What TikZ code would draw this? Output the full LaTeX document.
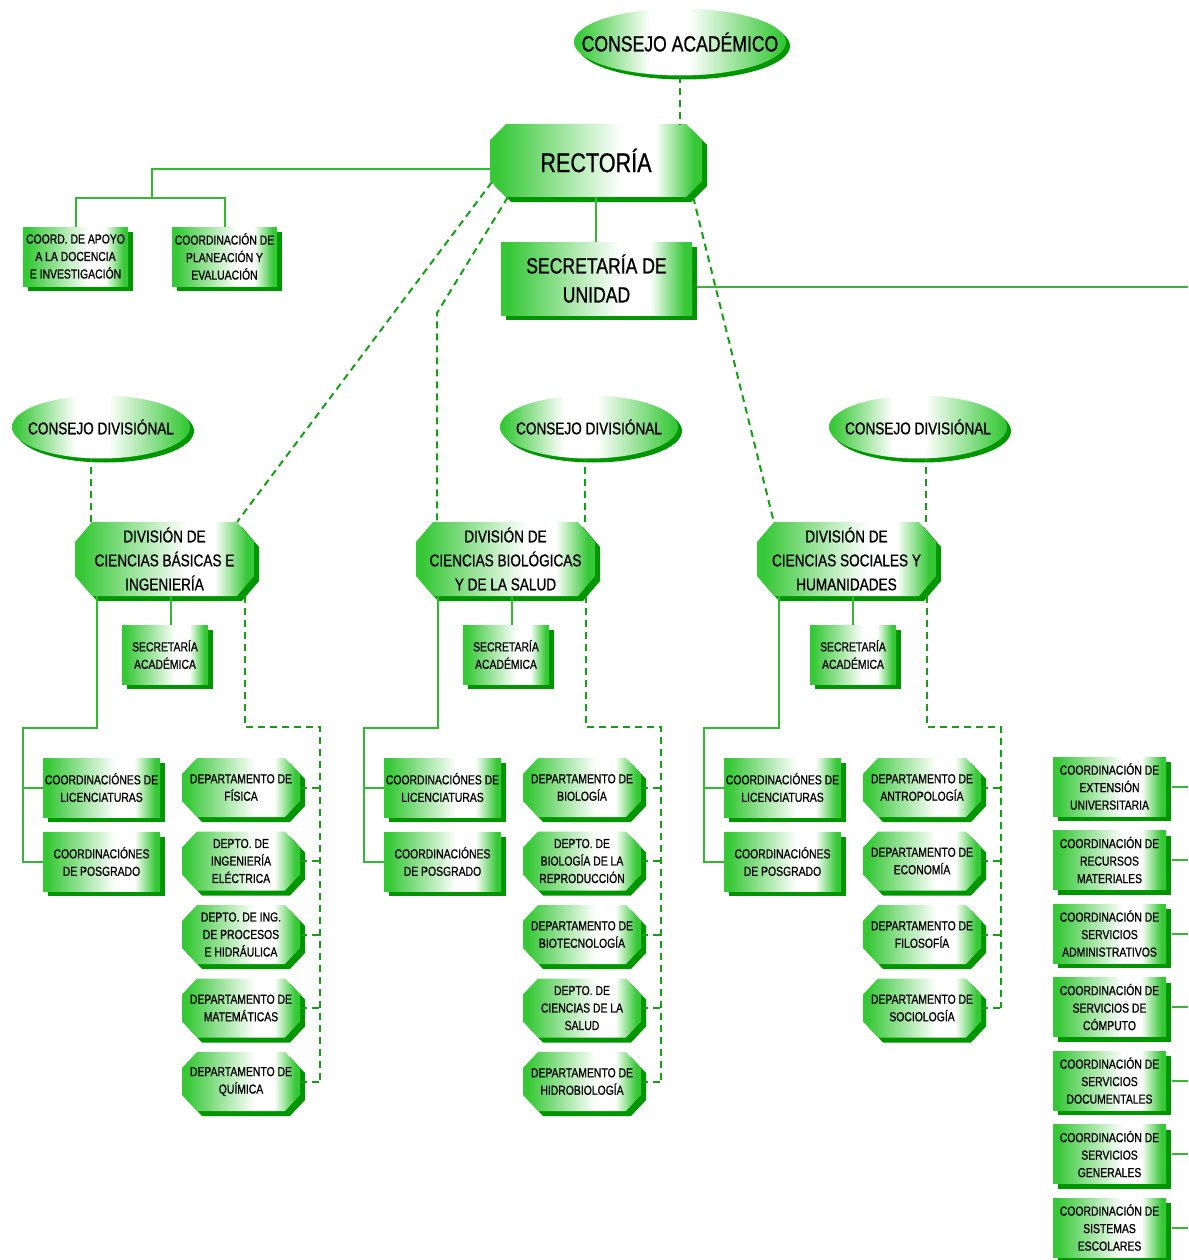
\documentclass[tikz,border=0pt]{standalone}
\usepackage{fontspec}
\setmainfont[FakeStretch=0.8,FakeBold=0.8]{Liberation Sans}
\usetikzlibrary{calc}
\definecolor{gmain}{RGB}{55,200,55}
\definecolor{gshadow}{RGB}{0,150,0}
\definecolor{gline}{RGB}{50,185,50}
\definecolor{gdash}{RGB}{20,160,20}
\pgfdeclarehorizontalshading{gboxsh}{100bp}{color(0bp)=(gmain); color(27bp)=(gmain); color(56bp)=(white); color(64bp)=(white); color(73bp)=(gmain); color(100bp)=(gmain)}
\pgfdeclarehorizontalshading{gellsh}{100bp}{color(0bp)=(gmain); color(26bp)=(gmain); color(43bp)=(white); color(52bp)=(white); color(74bp)=(gmain); color(100bp)=(gmain)}
\newcommand\fca{\fontsize{22}{26}\selectfont}
\newcommand\frec{\fontsize{27}{32}\selectfont}
\newcommand\fsu{\fontsize{22}{29}\selectfont}
\newcommand\fcd{\fontsize{17}{20}\selectfont}
\newcommand\fdv{\fontsize{17}{24}\selectfont}
\newcommand\fsml{\fontsize{13}{17.5}\selectfont}
% ellipse: [opts]{name}{cx}{cy}{w}{h}{text}
\newcommand\gell[7][]{%
  \fill[gshadow] ({#3+4},{#4+4}) ellipse [x radius={#5/2}, y radius={#6/2}];
  \shade[shading=gellsh] (#3,#4) ellipse [x radius={#5/2}, y radius={#6/2}];
  \node[txt,minimum width=#5pt,minimum height=#6pt,#1] (#2) at (#3,#4) {#7};
}
% box: [opts]{name}{xl}{yt}{w}{h}{text}
\newcommand\gbx[7][]{%
  \fill[gshadow] ({#3+5},{#4+5}) rectangle ++(#5,#6);
  \shade[shading=gboxsh] (#3,#4) rectangle ++(#5,#6);
  \node[txt,minimum width=#5pt,minimum height=#6pt,#1] (#2) at ({#3+#5/2},{#4+#6/2}) {#7};
}
% octagon: [opts]{name}{xl}{yt}{w}{h}{text}, chamfer \chx \chy
\newcommand\goct[7][]{%
  \fill[gshadow,shift={(5,5)}] ({#3+\chx},{#4}) -- ({#3+#5-\chx},{#4}) -- ({#3+#5},{#4+\chy}) -- ({#3+#5},{#4+#6-\chy}) -- ({#3+#5-\chx},{#4+#6}) -- ({#3+\chx},{#4+#6}) -- ({#3},{#4+#6-\chy}) -- ({#3},{#4+\chy}) -- cycle;
  \shade[shading=gboxsh] ({#3+\chx},{#4}) -- ({#3+#5-\chx},{#4}) -- ({#3+#5},{#4+\chy}) -- ({#3+#5},{#4+#6-\chy}) -- ({#3+#5-\chx},{#4+#6}) -- ({#3+\chx},{#4+#6}) -- ({#3},{#4+#6-\chy}) -- ({#3},{#4+\chy}) -- cycle;
  \node[txt,minimum width=#5pt,minimum height=#6pt,#1] (#2) at ({#3+#5/2},{#4+#6/2}) {#7};
}
\begin{document}
\begin{tikzpicture}[x=1pt,y=-1pt,
  txt/.style={align=center,inner sep=0pt,text=black},
  sol/.style={draw=gline,line width=2pt},
  dsh/.style={draw=gdash,line width=2pt,dash pattern=on 7pt off 5pt}]
\fill[white] (0,0) rectangle (1188,1260);
\useasboundingbox (0,0) rectangle (1188,1260);
\coordinate (edge) at (1188,0);

% ---- top ----
\gell[font=\fca]{ca}{680}{42}{212}{67}{CONSEJO ACADÉMICO}
\def\chx{16}\def\chy{16}
\goct[font=\frec]{rect}{490}{124}{212}{73}{RECTORÍA}
\gbx[font=\fsu]{su}{501}{242}{191}{73}{SECRETARÍA DE\\UNIDAD}
\gbx[font=\fsml]{cad}{23}{227}{105}{59}{COORD. DE APOYO\\A LA DOCENCIA\\E INVESTIGACIÓN}
\gbx[font=\fsml]{cpe}{172}{227}{105}{59}{COORDINACIÓN DE\\PLANEACIÓN Y\\EVALUACIÓN}

% ---- consejos divisionales ----
\gell[font=\fcd]{cd1}{101}{427}{178}{63}{CONSEJO DIVISIÓNAL}
\gell[font=\fcd]{cd2}{589}{427}{178}{63}{CONSEJO DIVISIÓNAL}
\gell[font=\fcd]{cd3}{918}{427}{178}{63}{CONSEJO DIVISIÓNAL}

% ---- divisiones ----
\def\chx{17}\def\chy{20}
\goct[font=\fdv]{div1}{75}{522}{179}{74}{DIVISIÓN DE\\CIENCIAS BÁSICAS E\\INGENIERÍA}
\goct[font=\fdv]{div2}{416}{522}{179}{74}{DIVISIÓN DE\\CIENCIAS BIOLÓGICAS\\Y DE LA SALUD}
\goct[font=\fdv]{div3}{757}{522}{179}{74}{DIVISIÓN DE\\CIENCIAS SOCIALES Y\\HUMANIDADES}

% ---- secretarias academicas ----
\gbx[font=\fsml]{sa1}{122}{625}{86}{59}{SECRETARÍA\\ACADÉMICA}
\gbx[font=\fsml]{sa2}{463}{625}{86}{59}{SECRETARÍA\\ACADÉMICA}
\gbx[font=\fsml]{sa3}{810}{625}{86}{59}{SECRETARÍA\\ACADÉMICA}

% ---- coordinaciones ----
\gbx[font=\fsml]{cl1}{43}{758}{117}{59}{COORDINACIÓNES DE\\LICENCIATURAS}
\gbx[font=\fsml]{cp1}{43}{832}{117}{59}{COORDINACIÓNES\\DE POSGRADO}
\gbx[font=\fsml]{cl2}{384}{758}{117}{59}{COORDINACIÓNES DE\\LICENCIATURAS}
\gbx[font=\fsml]{cp2}{384}{832}{117}{59}{COORDINACIÓNES\\DE POSGRADO}
\gbx[font=\fsml]{cl3}{724}{758}{117}{59}{COORDINACIÓNES DE\\LICENCIATURAS}
\gbx[font=\fsml]{cp3}{724}{832}{117}{59}{COORDINACIÓNES\\DE POSGRADO}

% ---- departamentos ----
\def\chx{15}\def\chy{16}
\goct[font=\fsml]{d1-1}{182}{758}{118}{59}{DEPARTAMENTO DE\\FÍSICA}
\goct[font=\fsml]{d1-2}{182}{831.5}{118}{59}{DEPTO. DE\\INGENIERÍA\\ELÉCTRICA}
\goct[font=\fsml]{d1-3}{182}{905}{118}{59}{DEPTO. DE ING.\\DE PROCESOS\\E HIDRÁULICA}
\goct[font=\fsml]{d1-4}{182}{978.5}{118}{59}{DEPARTAMENTO DE\\MATEMÁTICAS}
\goct[font=\fsml]{d1-5}{182}{1052}{118}{59}{DEPARTAMENTO DE\\QUÍMICA}

\goct[font=\fsml]{d2-1}{523}{758}{118}{59}{DEPARTAMENTO DE\\BIOLOGÍA}
\goct[font=\fsml]{d2-2}{523}{831.5}{118}{59}{DEPTO. DE\\BIOLOGÍA DE LA\\REPRODUCCIÓN}
\goct[font=\fsml]{d2-3}{523}{905}{118}{59}{DEPARTAMENTO DE\\BIOTECNOLOGÍA}
\goct[font=\fsml]{d2-4}{523}{978.5}{118}{59}{DEPTO. DE\\CIENCIAS DE LA\\SALUD}
\goct[font=\fsml]{d2-5}{523}{1052}{118}{59}{DEPARTAMENTO DE\\HIDROBIOLOGÍA}

\goct[font=\fsml]{d3-1}{863}{758}{118}{59}{DEPARTAMENTO DE\\ANTROPOLOGÍA}
\goct[font=\fsml]{d3-2}{863}{831.5}{118}{59}{DEPARTAMENTO DE\\ECONOMÍA}
\goct[font=\fsml]{d3-3}{863}{905}{118}{59}{DEPARTAMENTO DE\\FILOSOFÍA}
\goct[font=\fsml]{d3-4}{863}{978.5}{118}{59}{DEPARTAMENTO DE\\SOCIOLOGÍA}

% ---- coordinaciones de la secretaria de unidad ----
\gbx[font=\fsml]{rc1}{1053}{757}{113}{59}{COORDINACIÓN DE\\EXTENSIÓN\\UNIVERSITARIA}
\gbx[font=\fsml]{rc2}{1053}{830.5}{113}{59}{COORDINACIÓN DE\\RECURSOS\\MATERIALES}
\gbx[font=\fsml]{rc3}{1053}{904}{113}{59}{COORDINACIÓN DE\\SERVICIOS\\ADMINISTRATIVOS}
\gbx[font=\fsml]{rc4}{1053}{977.5}{113}{59}{COORDINACIÓN DE\\SERVICIOS DE\\CÓMPUTO}
\gbx[font=\fsml]{rc5}{1053}{1051}{113}{59}{COORDINACIÓN DE\\SERVICIOS\\DOCUMENTALES}
\gbx[font=\fsml]{rc6}{1053}{1124.5}{113}{59}{COORDINACIÓN DE\\SERVICIOS\\GENERALES}
\gbx[font=\fsml]{rc7}{1053}{1198}{113}{59}{COORDINACIÓN DE\\SISTEMAS\\ESCOLARES}

% ================= connectors =================
\draw[dsh] (ca.south) -- (ca.south |- rect.north);
\draw[sol] (rect.south) -- (rect.south |- su.north);
\draw[sol] ([xshift=5pt,yshift=-8.5pt]su.east) -- ([yshift=-8.5pt]su.east -| edge);

\coordinate (j1) at (152,198);
\draw[sol] ([yshift=-8.5pt]rect.west) -| (j1);
\draw[sol] (cad.north) |- (j1) -| (cpe.north);

\draw[dsh] ([xshift=2pt,yshift=15pt]rect.south west) -- ([xshift=-17pt]div1.north east);
\coordinate (b2) at (437,313);
\draw[dsh] ([xshift=18pt]rect.south west) -- (b2) -- (b2 |- div2.north);
\draw[dsh] ([xshift=-9pt]rect.south east) -- ([xshift=17pt]div3.north west);

\coordinate (k1) at ([xshift=16pt]div1.north west);
\coordinate (k2) at ([xshift=169pt]div2.north west);
\coordinate (k3) at ([xshift=169pt]div3.north west);
\foreach \i in {1,2,3}{
  \draw[dsh] (k\i) -- (k\i |- cd\i.south);
}

\foreach \i/\c in {1/0,2/341,3/681}{
  \coordinate (s\i) at ([xshift=96pt]div\i.south west);
  \draw[sol] (s\i) -- (s\i |- sa\i.north);
  \coordinate (l\i) at ([xshift=22pt]div\i.south west);
  \coordinate (t\i) at ({23+\c},728);
  \draw[sol] (l\i) |- (t\i) |- (cp\i.west);
  \draw[sol] (t\i |- cl\i.west) -- (cl\i.west);
  \coordinate (r\i) at ([xshift=170pt]div\i.south west);
  \coordinate (u\i) at ({320+\c},727);
}
\draw[dsh] (r1) |- (u1) -- (u1 |- d1-5.east);
\draw[dsh] (r2) |- (u2) -- (u2 |- d2-5.east);
\draw[dsh] (r3) |- (u3) -- (u3 |- d3-4.east);
\foreach \k in {1,...,5}{
  \draw[dsh] (d1-\k.east) -- (d1-\k.east -| u1);
  \draw[dsh] (d2-\k.east) -- (d2-\k.east -| u2);
}
\foreach \k in {1,...,4}{
  \draw[dsh] (d3-\k.east) -- (d3-\k.east -| u3);
}
\foreach \k in {1,...,7}{
  \draw[sol] ([xshift=6pt]rc\k.east) -- (rc\k.east -| edge);
}
\end{tikzpicture}
\end{document}
